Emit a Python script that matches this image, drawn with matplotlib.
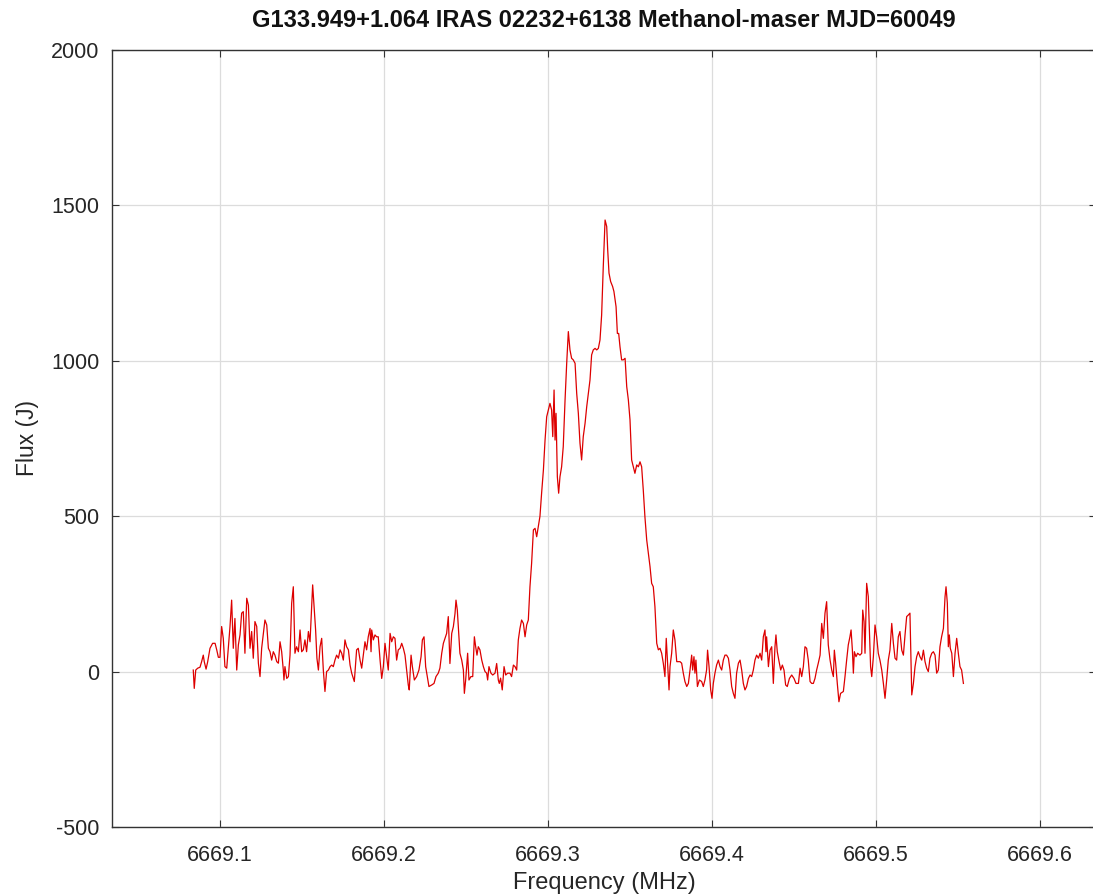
import matplotlib
matplotlib.use("Agg")
import matplotlib.pyplot as plt

title = "G133.949+1.064 IRAS 02232+6138 Methanol-maser MJD=60049"
x_label = "Frequency (MHz)"
y_label = "Flux (J)"
x_ticks = [6669.1, 6669.2, 6669.3, 6669.4, 6669.5, 6669.6]
x_tick_labels = ["6669.1", "6669.2", "6669.3", "6669.4", "6669.5", "6669.6"]
y_ticks = [-500, 0, 500, 1000, 1500, 2000]
y_tick_labels = ["-500", "0", "500", "1000", "1500", "2000"]

freq_mhz = [
    6669.0837, 6669.0843, 6669.0852, 6669.0864, 6669.0878, 6669.0888, 6669.0898, 6669.0904,
    6669.0915, 6669.0925, 6669.0939, 6669.0955, 6669.0970, 6669.0980, 6669.0990, 6669.1000,
    6669.1010, 6669.1020, 6669.1030, 6669.1041, 6669.1051, 6669.1061, 6669.1071, 6669.1081,
    6669.1091, 6669.1102, 6669.1112, 6669.1122, 6669.1132, 6669.1142, 6669.1152, 6669.1163,
    6669.1173, 6669.1183, 6669.1193, 6669.1203, 6669.1213, 6669.1224, 6669.1234, 6669.1244,
    6669.1254, 6669.1274, 6669.1285, 6669.1295, 6669.1305, 6669.1315, 6669.1325, 6669.1335,
    6669.1346, 6669.1356, 6669.1366, 6669.1376, 6669.1386, 6669.1390, 6669.1396, 6669.1407,
    6669.1417, 6669.1427, 6669.1437, 6669.1447, 6669.1457, 6669.1467, 6669.1478, 6669.1488,
    6669.1498, 6669.1508, 6669.1518, 6669.1528, 6669.1539, 6669.1549, 6669.1555, 6669.1565,
    6669.1575, 6669.1583, 6669.1591, 6669.1600,
    6669.1610, 6669.1620, 6669.1630, 6669.1640, 6669.1650, 6669.1661, 6669.1671, 6669.1681,
    6669.1691, 6669.1701, 6669.1711, 6669.1722, 6669.1732, 6669.1742, 6669.1752, 6669.1762,
    6669.1772, 6669.1783, 6669.1793, 6669.1803, 6669.1819, 6669.1833, 6669.1843, 6669.1854,
    6669.1864, 6669.1874, 6669.1884, 6669.1894, 6669.1904, 6669.1915, 6669.1921, 6669.1925,
    6669.1935, 6669.1945, 6669.1955, 6669.1965, 6669.1976, 6669.1986, 6669.1996, 6669.2006,
    6669.2016, 6669.2026, 6669.2037, 6669.2047, 6669.2057, 6669.2067, 6669.2077, 6669.2087,
    6669.2098, 6669.2108, 6669.2118, 6669.2128, 6669.2138, 6669.2148, 6669.2154, 6669.2165,
    6669.2173, 6669.2185, 6669.2199, 6669.2213, 6669.2226, 6669.2234, 6669.2244, 6669.2254,
    6669.2264, 6669.2274, 6669.2291, 6669.2305, 6669.2317, 6669.2331, 6669.2341, 6669.2352,
    6669.2362, 6669.2372, 6669.2382, 6669.2392,
    6669.2402, 6669.2413, 6669.2423, 6669.2433, 6669.2439, 6669.2447, 6669.2453, 6669.2463,
    6669.2474, 6669.2484, 6669.2490, 6669.2498, 6669.2510, 6669.2518, 6669.2530, 6669.2541,
    6669.2551, 6669.2559, 6669.2567, 6669.2575, 6669.2585, 6669.2596, 6669.2606, 6669.2616,
    6669.2626, 6669.2632, 6669.2640, 6669.2652, 6669.2663, 6669.2677, 6669.2687, 6669.2697,
    6669.2703, 6669.2711, 6669.2721, 6669.2732, 6669.2742, 6669.2754, 6669.2768, 6669.2778,
    6669.2789, 6669.2799, 6669.2809, 6669.2819, 6669.2829, 6669.2839, 6669.2850, 6669.2860,
    6669.2870, 6669.2880, 6669.2890, 6669.2900, 6669.2911, 6669.2921, 6669.2931, 6669.2941,
    6669.2951,
    6669.2961, 6669.2972, 6669.2982, 6669.2992, 6669.3002, 6669.3012, 6669.3022, 6669.3029,
    6669.3037, 6669.3043, 6669.3049, 6669.3057, 6669.3065, 6669.3073, 6669.3083, 6669.3093,
    6669.3104, 6669.3114, 6669.3124, 6669.3134, 6669.3144, 6669.3154, 6669.3165, 6669.3175,
    6669.3185, 6669.3195, 6669.3205, 6669.3215, 6669.3226, 6669.3236, 6669.3246, 6669.3256,
    6669.3266, 6669.3276, 6669.3287, 6669.3297, 6669.3307, 6669.3317, 6669.3327, 6669.3337,
    6669.3348, 6669.3358, 6669.3364, 6669.3372, 6669.3382, 6669.3394, 6669.3402, 6669.3415,
    6669.3423, 6669.3431, 6669.3439, 6669.3449, 6669.3459, 6669.3470, 6669.3480, 6669.3490,
    6669.3500, 6669.3510, 6669.3520, 6669.3530, 6669.3541, 6669.3551, 6669.3561, 6669.3571,
    6669.3581, 6669.3591, 6669.3602, 6669.3612, 6669.3622, 6669.3632, 6669.3642, 6669.3652,
    6669.3663, 6669.3673, 6669.3683, 6669.3693, 6669.3703, 6669.3713, 6669.3721, 6669.3730,
    6669.3738, 6669.3744, 6669.3754, 6669.3764, 6669.3774, 6669.3785, 6669.3795,
    6669.3805, 6669.3815, 6669.3825, 6669.3835, 6669.3846, 6669.3856, 6669.3866, 6669.3876,
    6669.3882, 6669.3890, 6669.3896, 6669.3902, 6669.3911, 6669.3923, 6669.3937, 6669.3947,
    6669.3957, 6669.3967, 6669.3973, 6669.3982, 6669.3992, 6669.4000, 6669.4008, 6669.4018,
    6669.4028, 6669.4039, 6669.4049, 6669.4059, 6669.4069, 6669.4079, 6669.4089, 6669.4100,
    6669.4110, 6669.4120, 6669.4130, 6669.4140, 6669.4150, 6669.4161, 6669.4171, 6669.4181,
    6669.4191, 6669.4201, 6669.4211, 6669.4222, 6669.4232, 6669.4242, 6669.4252, 6669.4262,
    6669.4272, 6669.4283, 6669.4293, 6669.4303, 6669.4313, 6669.4323, 6669.4329, 6669.4333,
    6669.4344, 6669.4354, 6669.4364, 6669.4374, 6669.4384, 6669.4390, 6669.4398, 6669.4409,
    6669.4419, 6669.4429, 6669.4439, 6669.4449, 6669.4459, 6669.4472, 6669.4486, 6669.4500,
    6669.4512, 6669.4527,
    6669.4537, 6669.4547, 6669.4557, 6669.4567, 6669.4577, 6669.4587, 6669.4598, 6669.4608,
    6669.4618, 6669.4628, 6669.4638, 6669.4648, 6669.4659, 6669.4669, 6669.4679, 6669.4689,
    6669.4699, 6669.4709, 6669.4720, 6669.4730, 6669.4740, 6669.4746, 6669.4754, 6669.4764,
    6669.4774, 6669.4784, 6669.4801, 6669.4811, 6669.4821, 6669.4831, 6669.4841, 6669.4848,
    6669.4856, 6669.4862, 6669.4868, 6669.4878, 6669.4888, 6669.4902, 6669.4913, 6669.4919,
    6669.4927, 6669.4933, 6669.4943, 6669.4953, 6669.4959, 6669.4967, 6669.4974, 6669.4984,
    6669.4994, 6669.5004, 6669.5014, 6669.5024, 6669.5035, 6669.5045, 6669.5055, 6669.5065,
    6669.5075, 6669.5085, 6669.5096, 6669.5106, 6669.5116, 6669.5126, 6669.5136, 6669.5146,
    6669.5157, 6669.5167, 6669.5177, 6669.5187, 6669.5197, 6669.5207, 6669.5218, 6669.5228,
    6669.5238, 6669.5248, 6669.5258, 6669.5268, 6669.5279, 6669.5289, 6669.5299, 6669.5309,
    6669.5319, 6669.5329, 6669.5340, 6669.5350, 6669.5360, 6669.5370, 6669.5380, 6669.5390,
    6669.5400, 6669.5411, 6669.5421, 6669.5427, 6669.5435, 6669.5441, 6669.5447, 6669.5453,
    6669.5462, 6669.5472, 6669.5482, 6669.5492, 6669.5502, 6669.5512, 6669.5522, 6669.5533,
]

flux_jy = [
    5, -54, 5, 11, 14, 32, 53, 32,
    8, 32, 75, 91, 91, 70, 46, 46,
    145, 107, 16, 11, 80, 145, 230, 75,
    171, 5, 86, 118, 188, 193, 59, 236,
    214, 75, 129, 43, 161, 145, 27, -16,
    75, 166, 150, 75, 64, 37, 64, 53,
    32, 27, 96, 64, 5, -27, 16, -22,
    -16, 53, 220, 273, 59, 80, 64, 134,
    64, 70, 102, 64, 129, 96, 166, 279,
    198, 134, 43, 5,
    80, 107, 5, -64, 0, 5, 16, 21,
    16, 37, 53, 43, 70, 59, 37, 102,
    80, 70, 21, -5, -32, 70, 75, 37,
    11, 53, 96, 70, 112, 139, 64, 134,
    102, 118, 112, 112, 37, -22, 16, 91,
    48, 5, 123, 96, 112, 107, 37, 70,
    75, 91, 75, 53, 5, -43, -59, 53,
    16, -27, -16, 5, 48, 102, 112, 16,
    -16, -48, -43, -38, -16, -5, 11, 59,
    91, 107, 123, 177,
    26, 123, 145, 187, 230, 198, 145, 59,
    37, 5, -70, -27, 59, -27, -16, -16,
    112, 80, 53, 80, 70, 37, 16, 0,
    -5, -27, 16, -5, -11, -5, 26, -27,
    -38, -21, -59, 16, -11, -5, -5, -16,
    21, 16, 5, 102, 139, 166, 155, 112,
    150, 166, 273, 348, 456, 461, 434, 466,
    500,
    574, 649, 745, 820, 842, 863, 842, 756,
    906, 745, 831, 627, 574, 627, 659, 724,
    874, 992, 1094, 1035, 1008, 1003, 992, 895,
    831, 735, 681, 756, 799, 852, 895, 938,
    1019, 1035, 1040, 1035, 1040, 1067, 1147, 1303,
    1453, 1432, 1357, 1282, 1255, 1239, 1223, 1174,
    1088, 1088, 1045, 1003, 1003, 1008, 917, 874,
    810, 681, 659, 638, 665, 659, 675, 659,
    584, 498, 423, 380, 338, 284, 273, 209,
    91, 70, 75, 59, 27, -16, 107, 16,
    -59, 16, 59, 134, 102, 32, 32,
    32, 27, -5, -32, -48, -38, 5, 53,
    5, 48, -5, 37, -48, -27, -32, -48,
    -27, 5, 69, 16, -59, -86, -38, -5,
    21, 37, 16, 5, 37, 53, 53, 43,
    5, -48, -70, -86, -5, 27, 37, 5,
    -38, -59, -48, -22, -11, -16, 5, 37,
    53, 43, 59, 37, 112, 134, 64, 112,
    16, 69, 80, -38, 80, 118, 64, 32,
    5, 21, 5, -43, -48, -22, -11, -22,
    -38, -38,
    11, -16, 16, 80, 75, 37, -32, -38,
    -38, -22, 5, 27, 53, 155, 107, 188,
    225, 86, 37, 5, -16, 69, 27, -38,
    -97, -70, -64, -16, 37, 86, 112, 134,
    69, -5, 64, 48, 59, 53, 59, 198,
    161, 59, 284, 241, 145, 16, -16, 48,
    150, 112, 59, 37, 5, -38, -86, -27,
    37, 69, 155, 91, 43, 37, 112, 129,
    69, 53, 118, 177, 182, 188, -75, -38,
    16, 48, 64, 48, 37, 69, 32, 11,
    0, 43, 59, 64, 53, -5, 5, 80,
    112, 139, 241, 273, 220, 80, 118, 75,
    59, -16, 59, 107, 59, 16, 5, -38,
]

W, H = 1093, 896
fig = plt.figure(figsize=(W / 100, H / 100), dpi=100)
plt.rcParams['font.family'] = ['Liberation Sans', 'DejaVu Sans']

left_px, right_px, top_px, bottom_px = 112, 1096, 50, 827
ax = fig.add_axes([left_px / W, 1 - bottom_px / H,
                   (right_px - left_px) / W, (bottom_px - top_px) / H])

ax.plot(freq_mhz, flux_jy, color='#dd0000', linewidth=0.9)

ax.set_xlim(6669.1 - (220 - left_px) / 1640, 6669.6 + (right_px - 1040) / 1640)
ax.set_ylim(-500, 2000)
ax.set_xticks(x_ticks)
ax.set_xticklabels(x_tick_labels)
ax.set_yticks(y_ticks)
ax.set_yticklabels(y_tick_labels)

ax.grid(True, color='#dcdcdc', linewidth=0.9)
ax.set_axisbelow(True)
for s in ax.spines.values():
    s.set_color('#333333')
    s.set_linewidth(1.0)
ax.tick_params(direction='in', length=5, width=0.8, color='#333333',
               labelsize=15.5, labelcolor='#262626', top=True, right=True, pad=9)
ax.tick_params(axis='x', pad=13)

ax.set_xlabel(x_label, fontsize=17, color='#262626', labelpad=4)
ax.set_ylabel(y_label, fontsize=16.5, color='#262626', labelpad=9)
ax.set_title(title, fontsize=17, fontweight='bold', color='#111111', pad=16.5)

fig.savefig("out.png", dpi=100)
